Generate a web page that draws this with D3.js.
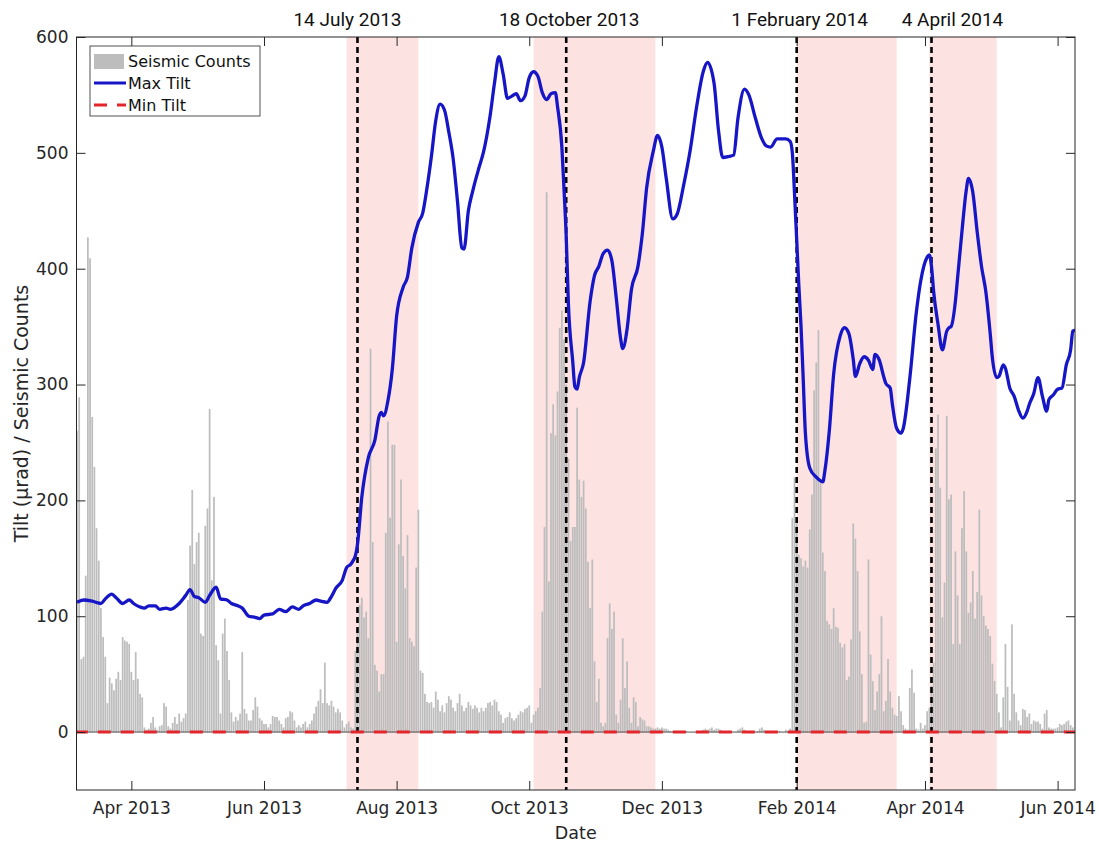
<!DOCTYPE html>
<html>
<head>
<meta charset="utf-8">
<title>Tilt and seismic counts</title>
<script src="https://cdn.jsdelivr.net/npm/d3@7"></script>
<style>
  body { margin: 0; background: #ffffff; }
  #TiltGraph { display: block; }
</style>
</head>
<body>
<svg id="TiltGraph" width="1099" height="844"></svg>
<script>
  /* Daily seismic counts, one array per month */

  let counts_Mar2013 = [260,289,63,65,135,427,409,272,229,176,148,107,82,65,25,47,42,36,46,52,45,82,79,78,76]
  let counts_Apr2013 = [52,45,69,46,33,30,4,2,3,8,13,4,2,5,6,25,22,5,3,8,13,7,16,9,12,16,114,161,209,145]
  let counts_May2013 = [164,172,85,83,178,193,279,131,203,75,62,16,85,98,70,45,17,9,13,10,16,69,20,16,10,10,19,30,22,12,10]
  let counts_Jun2013 = [7,7,4,7,14,13,13,10,7,4,12,13,18,17,10,4,6,4,7,9,4,7,10,16,22,27,37,25,60,25]
  let counts_Jul2013 = [23,27,22,17,20,17,10,4,7,9,4,3,70,90,110,116,99,104,81,331,164,58,53,35,50,50,172,268,185,248,248]
  let counts_Aug2013 = [78,162,218,152,124,170,81,78,74,142,192,53,51,33,26,25,26,21,35,28,18,23,17,25,31,28,21,18,25,33,23]
  let counts_Sep2013 = [18,21,26,23,20,23,21,17,21,18,21,25,26,23,28,26,18,15,8,12,13,17,12,10,12,15,18,17,20,21]
  let counts_Oct2013 = [23,8,15,18,21,38,104,177,466,130,258,283,256,294,349,364,339,300,236,165,177,177,280,218,203,217,193,147,107,149,61]
  let counts_Nov2013 = [26,46,8,5,8,81,111,89,104,15,8,28,81,38,61,21,8,30,26,5,13,11,10,5,5,4,3,3,4,3]
  let counts_Dec2013 = [4,3,3,2,1,1,0,1,0,0,0,1,0,0,0,0,1,0,0,2,3,2,3,4,2,3,3,2,1,0,0]
  let counts_Jan2014 = [0,1,0,0,2,3,4,2,1,0,0,0,0,1,3,4,2,0,0,0,1,0,0,1,0,0,2,1,3,185,220]
  let counts_Feb2014 = [180,153,150,143,148,142,175,205,295,319,347,217,155,139,96,93,89,107,91,90,77,73,76,45,48,80,180,167]
  let counts_Mar2014 = [139,87,50,8,9,149,67,44,19,35,50,100,18,27,63,35,21,15,14,31,18,6,3,2,38,54,34,3,2,8,3]
  let counts_Apr2014 = [6,18,21,40,60,245,274,211,99,129,273,201,205,76,156,118,76,176,208,156,103,112,139,98,121,192,118,100,92,89]
  let counts_May2014 = [83,59,44,33,17,4,30,76,39,10,93,33,17,10,6,20,19,13,16,7,10,9,9,7,3,16,19,4,3,3,3]
  let counts_Jun2014 = [4,7,6,7,9,10,6,4]

  /* Max tilt (µrad) */

  let maxTilt_2013 = [
    ["2013-03-07",112],["2013-03-10",114],["2013-03-14",113],["2013-03-18",111],["2013-03-20",115],
    ["2013-03-23",119],["2013-03-25",116],["2013-03-28",111],["2013-03-31",114],["2013-04-02",111],
    ["2013-04-05",108],["2013-04-07",107],["2013-04-09",109],["2013-04-12",109],["2013-04-14",106],
    ["2013-04-17",107],["2013-04-19",106],["2013-04-23",111],["2013-04-26",118],["2013-04-28",123],
    ["2013-04-30",117],["2013-05-02",116],["2013-05-05",112],["2013-05-07",118],["2013-05-10",125],
    ["2013-05-12",115],["2013-05-15",114],["2013-05-17",111],["2013-05-20",109],["2013-05-22",107],
    ["2013-05-25",100],["2013-05-28",99],["2013-05-30",98],["2013-06-01",101],["2013-06-05",102],
    ["2013-06-08",106],["2013-06-11",104],["2013-06-14",108],["2013-06-17",106],["2013-06-19",109],
    ["2013-06-22",111],["2013-06-25",114],["2013-06-27",113],["2013-06-30",112],["2013-07-02",117],
    ["2013-07-04",124],["2013-07-07",131],["2013-07-09",142],["2013-07-11",145],["2013-07-12",148],
    ["2013-07-13",152],["2013-07-14",162],["2013-07-16",203],["2013-07-19",237],["2013-07-22",252],
    ["2013-07-24",273],["2013-07-25",276],["2013-07-26",273],["2013-07-28",286],["2013-07-30",313],
    ["2013-08-01",359],["2013-08-04",384],["2013-08-06",393],["2013-08-08",418],["2013-08-11",440],
    ["2013-08-13",448],["2013-08-15",470],["2013-08-17",497],["2013-08-19",528],["2013-08-21",542],
    ["2013-08-23",537],["2013-08-25",518],["2013-08-27",495],["2013-08-29",458],["2013-08-31",418],
    ["2013-09-01",417],["2013-09-03",450],["2013-09-05",467],["2013-09-08",488],["2013-09-10",501],
    ["2013-09-13",532],["2013-09-15",560],["2013-09-17",583],["2013-09-19",568],["2013-09-21",547],
    ["2013-09-23",549],["2013-09-25",551],["2013-09-27",545],["2013-09-29",549],["2013-10-01",565],
    ["2013-10-03",570],["2013-10-05",566],["2013-10-07",552],["2013-10-09",546],["2013-10-11",551],
    ["2013-10-13",552],["2013-10-14",540],["2013-10-16",505],["2013-10-17",468],["2013-10-18",428],
    ["2013-10-19",370],["2013-10-21",320],["2013-10-22",298],["2013-10-23",296],["2013-10-24",306],
    ["2013-10-26",319],["2013-10-29",372],["2013-10-31",394],["2013-11-02",402],["2013-11-04",413],
    ["2013-11-06",416],["2013-11-08",407],["2013-11-10",375],["2013-11-12",340],["2013-11-13",331],
    ["2013-11-15",348],["2013-11-17",382],["2013-11-20",402],["2013-11-22",430],["2013-11-24",470],
    ["2013-11-27",501],["2013-11-29",515],["2013-12-01",505],["2013-12-03",478],["2013-12-06",443],
    ["2013-12-08",447],["2013-12-11",472],["2013-12-14",502],["2013-12-17",540],["2013-12-20",570],
    ["2013-12-22",578],["2013-12-25",560],["2013-12-27",520],["2013-12-29",496]
  ]
  let maxTilt_2014 = [
    ["2014-01-01",497],["2014-01-03",498],["2014-01-05",530],["2014-01-08",555],["2014-01-10",550],
    ["2014-01-13",530],["2014-01-16",512],["2014-01-18",506],["2014-01-20",505],["2014-01-23",512],
    ["2014-01-27",512],["2014-01-29",510],["2014-01-30",500],["2014-01-31",465],["2014-02-01",425],
    ["2014-02-02",385],["2014-02-03",350],["2014-02-04",305],["2014-02-05",258],["2014-02-07",228],
    ["2014-02-10",220],["2014-02-13",216],["2014-02-14",226],["2014-02-16",260],["2014-02-18",309],
    ["2014-02-21",342],["2014-02-23",349],["2014-02-25",344],["2014-02-27",322],["2014-02-28",307],
    ["2014-03-02",318],["2014-03-04",324],["2014-03-06",321],["2014-03-08",313],["2014-03-09",326],
    ["2014-03-11",321],["2014-03-13",307],["2014-03-14",301],["2014-03-16",297],["2014-03-17",283],
    ["2014-03-19",262],["2014-03-21",258],["2014-03-22",262],["2014-03-25",305],["2014-03-28",362],
    ["2014-03-30",389],["2014-04-02",410],["2014-04-03",412],["2014-04-04",402],["2014-04-05",380],
    ["2014-04-07",352],["2014-04-09",330],["2014-04-11",346],["2014-04-12",349],["2014-04-13",350],
    ["2014-04-15",372],["2014-04-16",392],["2014-04-18",432],["2014-04-20",468],["2014-04-21",478],
    ["2014-04-23",466],["2014-04-25",432],["2014-04-27",402],["2014-04-29",380],["2014-05-01",344],
    ["2014-05-02",323],["2014-05-04",306],["2014-05-05",307],["2014-05-07",317],["2014-05-08",314],
    ["2014-05-10",297],["2014-05-12",290],["2014-05-14",278],["2014-05-16",271],["2014-05-18",277],
    ["2014-05-19",283],["2014-05-21",292],["2014-05-23",306],["2014-05-25",290],["2014-05-27",277],
    ["2014-05-28",287],["2014-05-30",291],["2014-06-01",296],["2014-06-03",297],["2014-06-05",317],
    ["2014-06-07",330],["2014-06-08",346],["2014-06-09",347]
  ]
  let minTilt = [["2013-03-06",0],["2014-06-09",0]]

  /* Events, shaded periods, ticks */

  let eventDates = ["2013-07-14","2013-10-18","2014-02-01","2014-04-04"]
  let eventLabels = ["14 July 2013","18 October 2013","1 February 2014","4 April 2014"]
  let bandStarts = ["2013-07-09","2013-10-03","2014-02-01","2014-04-03"]
  let bandEnds = ["2013-08-11","2013-11-28","2014-03-19","2014-05-04"]
  let xTickDates = ["2013-04-01","2013-06-01","2013-08-01","2013-10-01","2013-12-01","2014-02-01","2014-04-01","2014-06-01"]
  let yTicks = [0,100,200,300,400,500,600]

  let parseDay = d3.utcParse("%Y-%m-%d")

  let countBlocks = [
    ["2013-03-07", counts_Mar2013], ["2013-04-01", counts_Apr2013], ["2013-05-01", counts_May2013],
    ["2013-06-01", counts_Jun2013], ["2013-07-01", counts_Jul2013], ["2013-08-01", counts_Aug2013],
    ["2013-09-01", counts_Sep2013], ["2013-10-01", counts_Oct2013], ["2013-11-01", counts_Nov2013],
    ["2013-12-01", counts_Dec2013], ["2014-01-01", counts_Jan2014], ["2014-02-01", counts_Feb2014],
    ["2014-03-01", counts_Mar2014], ["2014-04-01", counts_Apr2014], ["2014-05-01", counts_May2014],
    ["2014-06-01", counts_Jun2014]
  ]

  let seismic = []
  countBlocks.forEach(function(block){
    let first = parseDay(block[0])
    block[1].forEach(function(v, i){
      seismic.push({date: d3.utcDay.offset(first, i), value: v})
    })
  })

  let maxTilt = maxTilt_2013.concat(maxTilt_2014).map(function(p){
    return {date: parseDay(p[0]), value: p[1]}
  })
  let minTiltPts = minTilt.map(function(p){
    return {date: parseDay(p[0]), value: p[1]}
  })

  let margins = {top: 37, right: 24, bottom: 54, left: 76.5};
  let graphWidth = 1099 - margins.left - margins.right;
  let graphHeight = 844 - margins.top - margins.bottom;

  let axisColor = "#262626"
  let font = "'DejaVu Sans', 'Lucida Grande', sans-serif"

  let svg = d3.select("#TiltGraph")
              .append("g")
              .attr("transform", `translate(${margins.left},${margins.top})`)

  let x = d3.scaleUtc()
            .domain([new Date(Date.UTC(2013, 2, 6, 18, 30)), new Date(Date.UTC(2014, 5, 9))])
            .range([0, graphWidth])
  let y = d3.scaleLinear()
            .domain([-50, 600])
            .range([graphHeight, 0])

  svg.append("clipPath")
     .attr("id", "plotClip")
     .append("rect")
     .attr("width", graphWidth)
     .attr("height", graphHeight)

  let plot = svg.append("g").attr("clip-path", "url(#plotClip)")

  /* shaded periods */
  plot.selectAll(".band")
      .data(bandStarts)
      .enter()
      .append("rect")
      .attr("class", "band")
      .attr("x", function(d){ return x(parseDay(d)) })
      .attr("y", 0)
      .attr("width", function(d, i){ return x(parseDay(bandEnds[i])) - x(parseDay(d)) })
      .attr("height", graphHeight)
      .attr("fill", "#fde2e2")

  /* seismic count bars */
  let barW = 1.75
  plot.selectAll(".bar")
      .data(seismic)
      .enter()
      .append("rect")
      .attr("class", "bar")
      .attr("x", function(d){ return x(d.date) - barW / 2 })
      .attr("y", function(d){ return y(d.value) })
      .attr("width", barW)
      .attr("height", function(d){ return y(0) - y(d.value) })
      .attr("fill", "#bdbdbd")

  plot.append("line")
      .attr("x1", 0).attr("x2", graphWidth)
      .attr("y1", y(0)).attr("y2", y(0))
      .attr("stroke", axisColor)
      .attr("stroke-width", 0.8)

  /* event lines */
  plot.selectAll(".event")
      .data(eventDates)
      .enter()
      .append("line")
      .attr("class", "event")
      .attr("x1", function(d){ return x(parseDay(d)) })
      .attr("x2", function(d){ return x(parseDay(d)) })
      .attr("y1", 0)
      .attr("y2", graphHeight)
      .attr("stroke", "#000000")
      .attr("stroke-width", 2.6)
      .attr("stroke-dasharray", "6,4")

  let line = d3.line()
               .x(function(d){ return x(d.date) })
               .y(function(d){ return y(d.value) })

  plot.append("path")
      .datum(minTiltPts)
      .attr("d", line)
      .attr("fill", "none")
      .attr("stroke", "#e3262c")
      .attr("stroke-width", 3)
      .attr("stroke-dasharray", "13,10")

  plot.append("path")
      .datum(maxTilt)
      .attr("d", line.curve(d3.curveMonotoneX))
      .attr("fill", "none")
      .attr("stroke", "#1616c6")
      .attr("stroke-width", 3.3)
      .attr("stroke-linejoin", "round")

  /* axes: ticks point inward on all four sides */
  let tickDates = xTickDates.map(parseDay)

  let xAxis = svg.append("g")
                 .attr("transform", "translate(0," + graphHeight + ")")
                 .call(d3.axisBottom(x).tickValues(tickDates).tickFormat(d3.utcFormat("%b %Y"))
                         .tickSizeInner(-9).tickSizeOuter(0).tickPadding(12))
  let xAxisTop = svg.append("g")
                    .call(d3.axisTop(x).tickValues(tickDates).tickFormat("")
                            .tickSizeInner(-9).tickSizeOuter(0))
  let yAxis = svg.append("g")
                 .call(d3.axisLeft(y).tickValues(yTicks).tickSizeInner(-9).tickSizeOuter(0).tickPadding(8))
  let yAxisRight = svg.append("g")
                      .attr("transform", "translate(" + graphWidth + ",0)")
                      .call(d3.axisRight(y).tickValues(yTicks).tickFormat("").tickSizeInner(-9).tickSizeOuter(0))

  ;[xAxis, xAxisTop, yAxis, yAxisRight].forEach(function(a){
    a.select(".domain").remove()
    a.selectAll(".tick line").attr("stroke", axisColor).attr("stroke-width", 1)
    a.selectAll(".tick text").attr("fill", axisColor)
    a.attr("font-size", 17).attr("font-family", font)
  })

  svg.append("rect")
     .attr("width", graphWidth)
     .attr("height", graphHeight)
     .attr("fill", "none")
     .attr("stroke", axisColor)
     .attr("stroke-width", 1)

  /* axis titles */
  svg.append("text")
     .attr("x", graphWidth / 2)
     .attr("y", graphHeight + 49)
     .attr("text-anchor", "middle")
     .attr("font-family", font)
     .attr("font-size", 17.5)
     .attr("fill", axisColor)
     .text("Date")

  svg.append("text")
     .attr("transform", `translate(${-49},${graphHeight / 2}) rotate(-90)`)
     .attr("text-anchor", "middle")
     .attr("font-family", font)
     .attr("font-size", 19)
     .attr("fill", axisColor)
     .text("Tilt (µrad) / Seismic Counts")

  /* event labels above the plot */
  let labelNudge = [-10, 3, 3, 21]
  svg.selectAll(".eventLabel")
     .data(eventLabels)
     .enter()
     .append("text")
     .attr("class", "eventLabel")
     .attr("x", function(d, i){ return x(parseDay(eventDates[i])) + labelNudge[i] })
     .attr("y", -11)
     .attr("text-anchor", "middle")
     .attr("font-family", "Roboto, sans-serif")
     .attr("font-size", 19)
     .attr("fill", "#111111")
     .text(function(d){ return d })

  /* legend */
  let legend = svg.append("g")
                  .attr("transform", "translate(13.5,9)")
  legend.append("rect")
        .attr("width", 170)
        .attr("height", 70)
        .attr("fill", "#ffffff")
        .attr("stroke", axisColor)
        .attr("stroke-width", 0.8)
  legend.append("rect")
        .attr("x", 4).attr("y", 8)
        .attr("width", 30).attr("height", 15)
        .attr("fill", "#bdbdbd")
  legend.append("line")
        .attr("x1", 4).attr("x2", 36)
        .attr("y1", 37).attr("y2", 37)
        .attr("stroke", "#1616c6")
        .attr("stroke-width", 3)
  legend.append("line")
        .attr("x1", 4).attr("x2", 36)
        .attr("y1", 59).attr("y2", 59)
        .attr("stroke", "#e3262c")
        .attr("stroke-width", 3)
        .attr("stroke-dasharray", "13,10")
  legend.selectAll(".legendText")
        .data(["Seismic Counts", "Max Tilt", "Min Tilt"])
        .enter()
        .append("text")
        .attr("class", "legendText")
        .attr("x", 38)
        .attr("y", function(d, i){ return 21 + i * 22 })
        .attr("font-family", font)
        .attr("font-size", 16)
        .attr("fill", "#111111")
        .text(function(d){ return d })
</script>
</body>
</html>
